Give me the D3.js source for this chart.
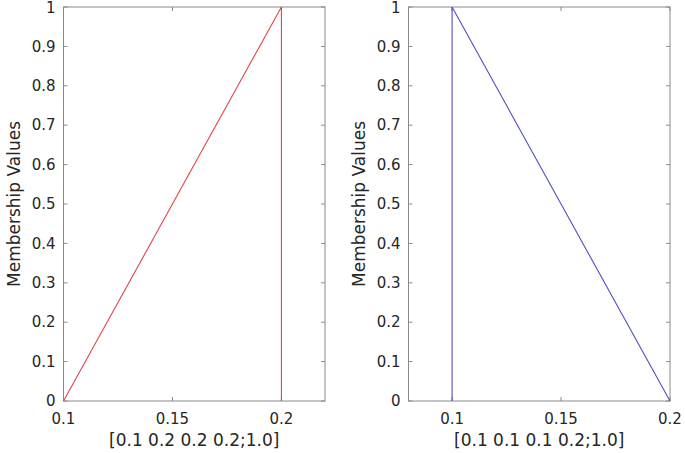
<!DOCTYPE html>
<html>
<head>
<meta charset="utf-8">
<script src="https://cdn.jsdelivr.net/npm/d3@7"></script>
<style>
  body { margin: 0; background: #fff; }
  text { font-family: "DejaVu Sans", Arial, sans-serif; fill: #262626; }
</style>
</head>
<body>
<div id="chart"></div>
<script>
// Membership function data for each subplot
const leftX = [0.1, 0.2, 0.2];
const leftY = [0, 1, 0];
const rightX = [0.1, 0.1, 0.2];
const rightY = [0, 1, 0];
const leftDomain = [0.1, 0.22];
const rightDomain = [0.08, 0.2];
const xTicks = [0.1, 0.15, 0.2];
const yTicks = [0, 0.1, 0.2, 0.3, 0.4, 0.5, 0.6, 0.7, 0.8, 0.9, 1];
const leftLabel = "[0.1 0.2 0.2 0.2;1.0]";
const rightLabel = "[0.1 0.1 0.1 0.2;1.0]";
const yLabel = "Membership Values";

const W = 685, H = 453;
const svg = d3.select("#chart").append("svg")
    .attr("width", W)
    .attr("height", H);

function drawPanel(left, right, domain, xs, ys, color, xLabel) {
    const top = 7, bottom = 401;

    const x = d3.scaleLinear().domain(domain).range([left, right]);
    const y = d3.scaleLinear().domain([0, 1]).range([bottom, top]);

    const g = svg.append("g");

    // tick marks (inside, on all four sides)
    const axisColor = "#8a8a8a";
    const tl = 4;
    xTicks.forEach(t => {
        g.append("line").attr("x1", x(t)).attr("x2", x(t))
            .attr("y1", bottom).attr("y2", bottom - tl)
            .attr("stroke", axisColor);
        g.append("line").attr("x1", x(t)).attr("x2", x(t))
            .attr("y1", top).attr("y2", top + tl)
            .attr("stroke", axisColor);
        g.append("text")
            .attr("x", x(t))
            .attr("y", bottom + 23)
            .attr("text-anchor", "middle")
            .style("font-size", "15px")
            .text(t);
    });
    yTicks.forEach(t => {
        g.append("line").attr("x1", left).attr("x2", left + tl)
            .attr("y1", y(t)).attr("y2", y(t))
            .attr("stroke", axisColor);
        g.append("line").attr("x1", right).attr("x2", right - tl)
            .attr("y1", y(t)).attr("y2", y(t))
            .attr("stroke", axisColor);
        g.append("text")
            .attr("x", left - 8)
            .attr("y", Math.max(y(t), 8))
            .attr("dy", "0.35em")
            .attr("text-anchor", "end")
            .style("font-size", "15px")
            .text(t);
    });

    // box
    g.append("rect")
        .attr("x", left).attr("y", top)
        .attr("width", right - left).attr("height", bottom - top)
        .attr("fill", "none")
        .attr("stroke", axisColor)
        .attr("stroke-width", 1);

    // data line
    const pts = xs.map((v, i) => [v, ys[i]]);
    const line = d3.line().x(d => x(d[0])).y(d => y(d[1]));
    g.append("path")
        .datum(pts)
        .attr("fill", "none")
        .attr("stroke", color)
        .attr("stroke-width", 1.1)
        .attr("d", line);

    // axis labels
    g.append("text")
        .attr("x", (left + right) / 2)
        .attr("y", bottom + 45)
        .attr("text-anchor", "middle")
        .style("font-size", "17px")
        .text(xLabel);

    g.append("text")
        .attr("transform", `translate(${left - 44},${(top + bottom) / 2}) rotate(-90)`)
        .attr("text-anchor", "middle")
        .style("font-size", "17px")
        .text(yLabel);
}

drawPanel(63.5, 325, leftDomain, leftX, leftY, "#e2444c", leftLabel);
drawPanel(408.5, 670, rightDomain, rightX, rightY, "#5050c4", rightLabel);
</script>
</body>
</html>
